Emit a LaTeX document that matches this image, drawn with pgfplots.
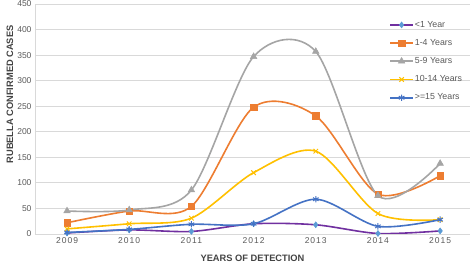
\documentclass[border=0pt]{standalone}
\usepackage{fontspec}
\setmainfont{Liberation Sans}
\usepackage{pgfplots}
\pgfplotsset{compat=1.18}
\definecolor{cPurple}{HTML}{7030A0}
\definecolor{cLBlue}{HTML}{5B9BD5}
\definecolor{cOrange}{HTML}{ED7D31}
\definecolor{cGray}{HTML}{A5A5A5}
\definecolor{cGold}{HTML}{FFC000}
\definecolor{cBlue}{HTML}{4472C4}
\definecolor{cGrid}{HTML}{D9D9D9}
\definecolor{cText}{HTML}{595959}
\begin{document}
\begin{tikzpicture}
\begin{axis}[
  scale only axis, width=435pt, height=230pt,
  xmin=2008.485, xmax=2015.48, ymin=0, ymax=450,
  xtick={2009,...,2015}, ytick={0,50,...,450},
  xticklabel style={font=\fontsize{8.5}{10}\selectfont\addfontfeature{LetterSpace=12}, text=cText},
  yticklabel style={font=\fontsize{8.5}{10}\selectfont, text=cText},
  /pgf/number format/assume math mode=true,
  /pgf/number format/set thousands separator={},
  ymajorgrids, grid style={cGrid, line width=0.8pt},
  axis x line*=bottom, axis y line*=left,
  axis line style={cGrid, line width=0.8pt},
  x axis line style={-}, y axis line style={-},
  tick style={draw=none},
  xlabel={\textbf{YEARS OF DETECTION}},
  ylabel={\textbf{RUBELLA CONFIRMED CASES}},
  label style={font=\fontsize{9.3}{11}\selectfont, text=cText!75!black},
  xlabel style={at={(axis description cs:0.5,-0.104)}, anchor=center},
  ylabel style={at={(axis description cs:-0.0575,0.607)}, anchor=center},
  every axis plot/.append style={smooth, tension=0.5, line width=1.6pt},
  legend style={draw=none, fill=none, at={(0.814,0.935)}, anchor=north west,
    font=\fontsize{8.8}{10}\selectfont, text=cText, row sep=6.6pt,
    inner sep=0pt, cells={anchor=west}, nodes={inner xsep=1pt}},
  legend image code/.code={\draw[mark repeat=2, mark phase=2] plot coordinates {(0pt,0pt)(11.5pt,0pt)(23pt,0pt)};},
]
\addplot[cPurple, mark=diamond*, mark size=3pt, mark options={fill=cLBlue, draw=cLBlue, line width=0.5pt}] coordinates {
(2009,2)(2010,8)(2011,5)(2012,20)(2013,18)(2014,1)(2015,6)};
\addlegendentry{<1 Year}
\addplot[cOrange, mark=square*, mark size=3.2pt, mark options={fill=cOrange, line width=0.5pt}] coordinates {
(2009,22)(2010,45)(2011,54)(2012,248)(2013,231)(2014,78)(2015,114)};
\addlegendentry{1-4 Years}
\addplot[cGray, mark=triangle*, mark size=3.8pt, mark options={fill=cGray, line width=0.5pt}] coordinates {
(2009,45)(2010,47)(2011,86)(2012,347)(2013,357)(2014,75)(2015,138)};
\addlegendentry{5-9 Years}
\addplot[cGold, mark=x, mark size=3.2pt, mark options={line width=1pt}] coordinates {
(2009,10)(2010,20)(2011,31)(2012,120)(2013,162)(2014,40)(2015,28)};
\addlegendentry{10-14 Years}
\addplot[cBlue, mark=asterisk, mark size=3.2pt, mark options={line width=1pt}] coordinates {
(2009,3)(2010,9)(2011,19)(2012,20)(2013,68)(2014,15)(2015,28)};
\addlegendentry{>=15 Years}
\end{axis}
\pgfresetboundingbox
\path[use as bounding box] ([shift={(-35pt,-30pt)}]current axis.south west) rectangle ++(472pt,264pt);
\end{tikzpicture}
\end{document}
